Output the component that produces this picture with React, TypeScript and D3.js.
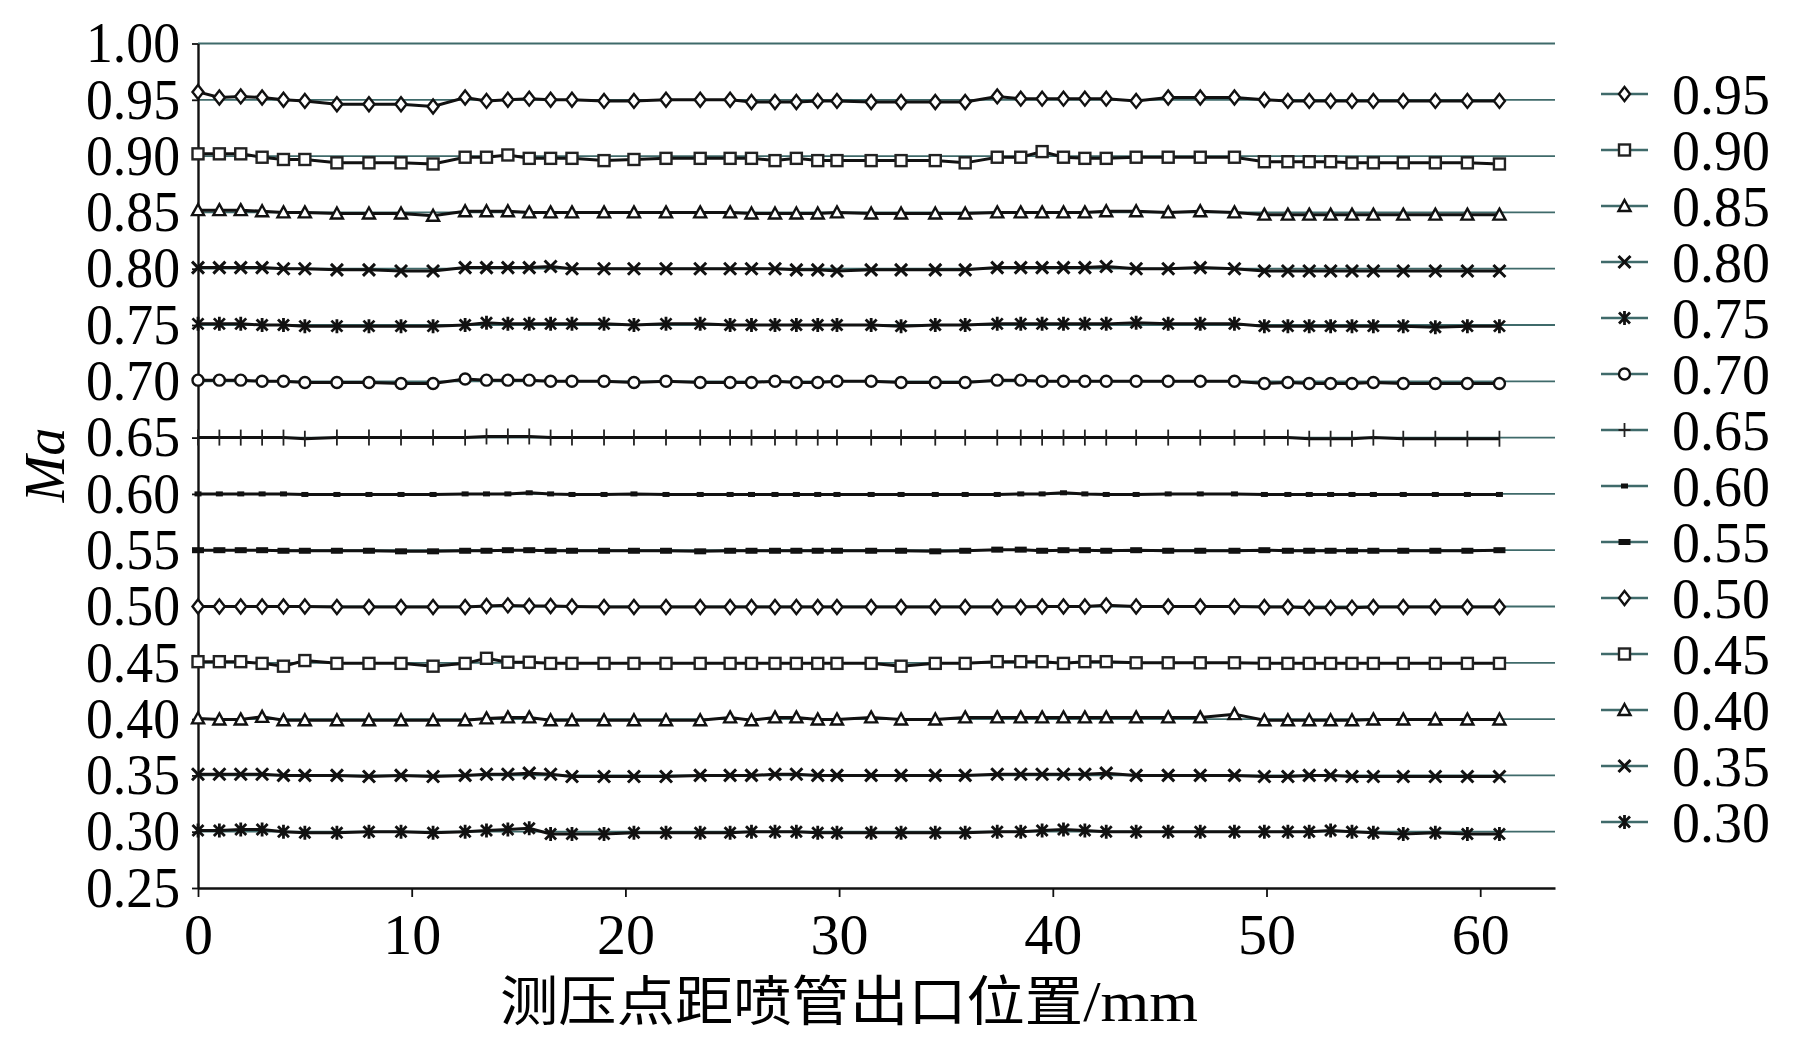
import { useRef, useEffect } from 'react';
import * as d3 from 'd3';

// measurement positions along the nozzle (mm)
const positions = [0, 1, 2, 3, 4, 5, 6.5, 8, 9.5, 11, 12.5, 13.5, 14.5, 15.5, 16.5, 17.5, 19, 20.4, 21.9, 23.5, 24.9, 25.9, 27, 28, 29, 29.9, 31.5, 32.9, 34.5, 35.9, 37.4, 38.5, 39.5, 40.5, 41.5, 42.5, 43.9, 45.4, 46.9, 48.5, 49.9, 51, 52, 53, 54, 55, 56.4, 57.9, 59.4, 60.9];

const ma95 = [0.957, 0.952, 0.953, 0.952, 0.950, 0.949, 0.946, 0.946, 0.946, 0.944, 0.952, 0.949, 0.950, 0.951, 0.950, 0.950, 0.949, 0.949, 0.950, 0.950, 0.950, 0.948, 0.948, 0.948, 0.949, 0.949, 0.948, 0.948, 0.948, 0.948, 0.953, 0.951, 0.951, 0.951, 0.951, 0.951, 0.949, 0.952, 0.952, 0.952, 0.950, 0.949, 0.949, 0.949, 0.949, 0.949, 0.949, 0.949, 0.949, 0.949];
const ma90 = [0.902, 0.902, 0.902, 0.899, 0.897, 0.897, 0.894, 0.894, 0.894, 0.893, 0.899, 0.899, 0.901, 0.898, 0.898, 0.898, 0.896, 0.897, 0.898, 0.898, 0.898, 0.898, 0.896, 0.898, 0.896, 0.896, 0.896, 0.896, 0.896, 0.894, 0.899, 0.899, 0.904, 0.899, 0.898, 0.898, 0.899, 0.899, 0.899, 0.899, 0.895, 0.895, 0.895, 0.895, 0.894, 0.894, 0.894, 0.894, 0.894, 0.893];
const ma85 = [0.852, 0.852, 0.852, 0.851, 0.850, 0.850, 0.849, 0.849, 0.849, 0.847, 0.851, 0.851, 0.851, 0.850, 0.850, 0.850, 0.850, 0.850, 0.850, 0.850, 0.850, 0.849, 0.849, 0.849, 0.849, 0.850, 0.849, 0.849, 0.849, 0.849, 0.850, 0.850, 0.850, 0.850, 0.850, 0.851, 0.851, 0.850, 0.851, 0.850, 0.848, 0.848, 0.848, 0.848, 0.848, 0.848, 0.848, 0.848, 0.848, 0.848];
const ma80 = [0.801, 0.801, 0.801, 0.801, 0.800, 0.800, 0.799, 0.799, 0.798, 0.798, 0.801, 0.801, 0.801, 0.801, 0.802, 0.800, 0.800, 0.800, 0.800, 0.800, 0.800, 0.800, 0.800, 0.799, 0.799, 0.798, 0.799, 0.799, 0.799, 0.799, 0.801, 0.801, 0.801, 0.801, 0.801, 0.802, 0.800, 0.800, 0.801, 0.800, 0.798, 0.798, 0.798, 0.798, 0.798, 0.798, 0.798, 0.798, 0.798, 0.798];
const ma75 = [0.751, 0.751, 0.751, 0.750, 0.750, 0.749, 0.749, 0.749, 0.749, 0.749, 0.750, 0.752, 0.751, 0.751, 0.751, 0.751, 0.751, 0.750, 0.751, 0.751, 0.750, 0.750, 0.750, 0.750, 0.750, 0.750, 0.750, 0.749, 0.750, 0.750, 0.751, 0.751, 0.751, 0.751, 0.751, 0.751, 0.752, 0.751, 0.751, 0.751, 0.749, 0.749, 0.749, 0.749, 0.749, 0.749, 0.749, 0.748, 0.749, 0.749];
const ma70 = [0.701, 0.701, 0.701, 0.700, 0.700, 0.699, 0.699, 0.699, 0.698, 0.698, 0.702, 0.701, 0.701, 0.701, 0.700, 0.700, 0.700, 0.699, 0.700, 0.699, 0.699, 0.699, 0.700, 0.699, 0.699, 0.700, 0.700, 0.699, 0.699, 0.699, 0.701, 0.701, 0.700, 0.700, 0.700, 0.700, 0.700, 0.700, 0.700, 0.700, 0.698, 0.699, 0.698, 0.698, 0.698, 0.699, 0.698, 0.698, 0.698, 0.698];
const ma65 = [0.650, 0.650, 0.650, 0.650, 0.650, 0.649, 0.650, 0.650, 0.650, 0.650, 0.650, 0.651, 0.651, 0.651, 0.650, 0.650, 0.650, 0.650, 0.650, 0.650, 0.650, 0.650, 0.650, 0.650, 0.650, 0.650, 0.650, 0.650, 0.650, 0.650, 0.650, 0.650, 0.650, 0.650, 0.650, 0.650, 0.650, 0.650, 0.650, 0.650, 0.650, 0.650, 0.649, 0.649, 0.649, 0.650, 0.649, 0.649, 0.649, 0.649];
const ma60 = [0.600, 0.600, 0.600, 0.600, 0.600, 0.5995, 0.5995, 0.5995, 0.5995, 0.5995, 0.600, 0.600, 0.600, 0.601, 0.600, 0.5995, 0.5995, 0.600, 0.5995, 0.5995, 0.5995, 0.5995, 0.5995, 0.5995, 0.5995, 0.5995, 0.5995, 0.5995, 0.5995, 0.5995, 0.5995, 0.600, 0.600, 0.601, 0.600, 0.5995, 0.5995, 0.600, 0.600, 0.600, 0.5995, 0.5995, 0.5995, 0.5995, 0.5995, 0.5995, 0.5995, 0.5995, 0.5995, 0.5995];
const ma55 = [0.550, 0.550, 0.550, 0.550, 0.5495, 0.5495, 0.5495, 0.5495, 0.549, 0.549, 0.5495, 0.5495, 0.550, 0.550, 0.5495, 0.5495, 0.5495, 0.5495, 0.5495, 0.549, 0.5495, 0.5495, 0.5495, 0.5495, 0.5495, 0.5495, 0.5495, 0.5495, 0.549, 0.5495, 0.5505, 0.5505, 0.5495, 0.550, 0.550, 0.5495, 0.550, 0.5495, 0.5495, 0.5495, 0.550, 0.5495, 0.5495, 0.5495, 0.5495, 0.5495, 0.5495, 0.5495, 0.5495, 0.550];
const ma50 = [0.500, 0.500, 0.500, 0.500, 0.500, 0.500, 0.4995, 0.4995, 0.4995, 0.4995, 0.4995, 0.5005, 0.501, 0.5005, 0.5005, 0.500, 0.4995, 0.4995, 0.4995, 0.4995, 0.4995, 0.4995, 0.4995, 0.4995, 0.4995, 0.4995, 0.4995, 0.4995, 0.4995, 0.4995, 0.4995, 0.4995, 0.500, 0.500, 0.500, 0.501, 0.500, 0.500, 0.500, 0.500, 0.4995, 0.4995, 0.499, 0.499, 0.499, 0.4995, 0.4995, 0.4995, 0.4995, 0.4995];
const ma45 = [0.451, 0.451, 0.451, 0.4495, 0.447, 0.452, 0.4495, 0.4495, 0.4495, 0.447, 0.4495, 0.454, 0.4505, 0.4505, 0.4495, 0.4495, 0.4495, 0.4495, 0.4495, 0.4495, 0.4495, 0.4495, 0.4495, 0.4495, 0.4495, 0.4495, 0.4495, 0.447, 0.4495, 0.4495, 0.451, 0.451, 0.451, 0.4495, 0.451, 0.451, 0.450, 0.450, 0.450, 0.450, 0.4495, 0.4495, 0.4495, 0.4495, 0.4495, 0.4495, 0.4495, 0.4495, 0.4495, 0.4495];
const ma40 = [0.4006, 0.3997, 0.3997, 0.402, 0.399, 0.399, 0.399, 0.399, 0.399, 0.399, 0.399, 0.4006, 0.4015, 0.4015, 0.399, 0.399, 0.399, 0.399, 0.399, 0.399, 0.4015, 0.399, 0.4015, 0.4015, 0.3997, 0.3997, 0.4015, 0.3997, 0.3997, 0.4015, 0.4015, 0.4015, 0.4015, 0.4015, 0.4015, 0.4015, 0.4015, 0.4015, 0.4015, 0.4044, 0.399, 0.399, 0.399, 0.399, 0.399, 0.3997, 0.3997, 0.3997, 0.3997, 0.3997];
const ma35 = [0.351, 0.351, 0.351, 0.351, 0.350, 0.350, 0.350, 0.349, 0.350, 0.349, 0.350, 0.351, 0.351, 0.352, 0.351, 0.349, 0.349, 0.349, 0.349, 0.350, 0.350, 0.350, 0.351, 0.351, 0.350, 0.350, 0.350, 0.350, 0.350, 0.350, 0.351, 0.351, 0.351, 0.351, 0.351, 0.352, 0.350, 0.350, 0.350, 0.350, 0.349, 0.349, 0.350, 0.350, 0.349, 0.349, 0.349, 0.349, 0.349, 0.349];
const ma30 = [0.301, 0.301, 0.302, 0.302, 0.300, 0.299, 0.299, 0.300, 0.300, 0.299, 0.300, 0.301, 0.302, 0.303, 0.298, 0.298, 0.298, 0.299, 0.299, 0.299, 0.299, 0.300, 0.300, 0.300, 0.299, 0.299, 0.299, 0.299, 0.299, 0.299, 0.300, 0.300, 0.301, 0.302, 0.301, 0.300, 0.300, 0.300, 0.300, 0.300, 0.300, 0.300, 0.300, 0.301, 0.300, 0.299, 0.298, 0.299, 0.298, 0.298];

const seriesNames = ['0.95', '0.90', '0.85', '0.80', '0.75', '0.70', '0.65', '0.60', '0.55', '0.50', '0.45', '0.40', '0.35', '0.30'];
const seriesValues = [ma95, ma90, ma85, ma80, ma75, ma70, ma65, ma60, ma55, ma50, ma45, ma40, ma35, ma30];
const seriesSymbols = ['diamond', 'square', 'triangle', 'cross', 'star', 'circle', 'plus', 'dot', 'dash', 'diamond', 'square', 'triangle', 'cross', 'star'];

const yTicks = [1.0, 0.95, 0.9, 0.85, 0.8, 0.75, 0.7, 0.65, 0.6, 0.55, 0.5, 0.45, 0.4, 0.35, 0.3, 0.25];
const xTicks = [0, 10, 20, 30, 40, 50, 60];

const W = 1795;
const H = 1039;
const SERIF = '"Liberation Serif", "Times New Roman", serif';
const GRID = '#3f6a6a';

// draws one marker glyph centred at (cx, cy)
function drawMarker(g, type, cx, cy, legend = false) {
  const m = g.append('g').attr('transform', `translate(${cx},${cy})`);
  const sw = 2.4;
  if (type === 'diamond') {
    m.append('path').attr('d', 'M0,-7L5.5,0L0,7L-5.5,0Z')
      .attr('fill', '#fff').attr('stroke', '#111').attr('stroke-width', sw);
  } else if (type === 'square') {
    m.append('rect').attr('x', -5.5).attr('y', -5.5).attr('width', 11).attr('height', 11)
      .attr('fill', '#fff').attr('stroke', '#222').attr('stroke-width', sw);
  } else if (type === 'triangle') {
    m.append('path').attr('d', 'M0,-6L6,5L-6,5Z')
      .attr('fill', '#fff').attr('stroke', '#111').attr('stroke-width', sw);
  } else if (type === 'cross') {
    m.append('path').attr('d', 'M-6,-6L6,6M-6,6L6,-6')
      .attr('stroke', '#111').attr('stroke-width', 3);
  } else if (type === 'star') {
    m.append('path').attr('d', 'M-5.5,-5.5L5.5,5.5M-5.5,5.5L5.5,-5.5M0,-7L0,7')
      .attr('stroke', '#111').attr('stroke-width', 2.8);
  } else if (type === 'circle') {
    m.append('circle').attr('r', 5.5)
      .attr('fill', '#fff').attr('stroke', '#111').attr('stroke-width', sw);
  } else if (type === 'plus') {
    m.append('path').attr('d', legend ? 'M0,-7L0,7M-6,0L6,0' : 'M0,-8L0,8')
      .attr('stroke', '#222').attr('stroke-width', 1.8);
  } else if (type === 'dot') {
    m.append('rect').attr('x', -3.5).attr('y', -2.5).attr('width', 7).attr('height', 5).attr('fill', '#111');
  } else if (type === 'dash') {
    m.append('rect').attr('x', -6).attr('y', -3).attr('width', 12).attr('height', 6).attr('fill', '#111');
  }
}

const MachChart = () => {
  const svgRef = useRef(null);

  useEffect(() => {
    const svg = d3.select(svgRef.current);
    svg.selectAll('*').remove();

    const x = d3.scaleLinear().domain([0, 63.5]).range([198, 1555]);
    const y = d3.scaleLinear().domain([0.25, 1.0]).range([888, 43.5]);

    svg.append('rect').attr('width', W).attr('height', H).attr('fill', '#fff');

    // horizontal gridlines
    svg.append('g')
      .selectAll('line')
      .data(yTicks.filter(d => d > 0.25))
      .join('line')
      .attr('x1', x(0)).attr('x2', x(63.5))
      .attr('y1', d => y(d)).attr('y2', d => y(d))
      .attr('stroke', GRID).attr('stroke-width', 1.8);

    // axes
    const xAxis = svg.append('g')
      .attr('transform', `translate(0,${y(0.25)})`)
      .call(d3.axisBottom(x).tickValues(xTicks).tickSize(9).tickSizeOuter(0).tickPadding(16));
    xAxis.select('.domain').attr('stroke', '#111').attr('stroke-width', 2.4);
    xAxis.selectAll('.tick line').attr('stroke', '#111').attr('stroke-width', 1.8);
    xAxis.selectAll('.tick text')
      .attr('font-family', SERIF).attr('font-size', 58).attr('fill', '#000');

    const yAxis = svg.append('g')
      .attr('transform', `translate(${x(0)},0)`)
      .call(d3.axisLeft(y).tickValues(yTicks).tickSize(6).tickSizeOuter(0).tickPadding(12).tickFormat(d3.format('.2f')));
    yAxis.select('.domain').attr('stroke', '#111').attr('stroke-width', 2.4);
    yAxis.selectAll('.tick line').attr('stroke', '#111').attr('stroke-width', 1.8);
    yAxis.selectAll('.tick text')
      .attr('font-family', SERIF).attr('font-size', 57).attr('fill', '#000')
      .attr('textLength', 94).attr('lengthAdjust', 'spacingAndGlyphs');

    // series
    const line = d3.line()
      .x((d, i) => x(positions[i]))
      .y(d => y(d));

    seriesValues.forEach((vals, si) => {
      const g = svg.append('g');
      g.append('path')
        .attr('d', line(vals))
        .attr('fill', 'none')
        .attr('stroke', '#111')
        .attr('stroke-width', 3);
      vals.forEach((v, i) => drawMarker(g, seriesSymbols[si], x(positions[i]), y(v)));
    });

    // legend
    const legend = svg.append('g');
    seriesNames.forEach((name, i) => {
      const cy = 94 + i * 56;
      legend.append('line')
        .attr('x1', 1601).attr('x2', 1648).attr('y1', cy).attr('y2', cy)
        .attr('stroke', GRID).attr('stroke-width', 2.4);
      drawMarker(legend, seriesSymbols[i], 1624.5, cy, true);
      legend.append('text')
        .attr('x', 1672).attr('y', cy)
        .attr('dy', '0.35em')
        .attr('font-family', SERIF).attr('font-size', 57)
        .attr('textLength', 98).attr('lengthAdjust', 'spacingAndGlyphs')
        .text(name);
    });

    // axis titles
    svg.append('text')
      .attr('transform', 'translate(44,465) rotate(-90)')
      .attr('text-anchor', 'middle').attr('dy', '0.35em')
      .attr('font-family', SERIF).attr('font-style', 'italic').attr('font-size', 56)
      .text('Ma');

    const title = svg.append('text')
      .attr('x', 500).attr('y', 1021)
      .attr('textLength', 698).attr('lengthAdjust', 'spacingAndGlyphs')
      .attr('font-size', 54);
    title.append('tspan').attr('font-family', '"Noto Sans CJK SC", sans-serif').text('测压点距喷管出口位置');
    title.append('tspan').attr('font-family', SERIF).attr('font-size', 58).text('/mm');
  }, []);

  return (
    <svg ref={svgRef} width={W} height={H} style={{ position: 'absolute', left: 0, top: 0 }}></svg>
  );
};

export default function App() {
  return <MachChart />;
}
